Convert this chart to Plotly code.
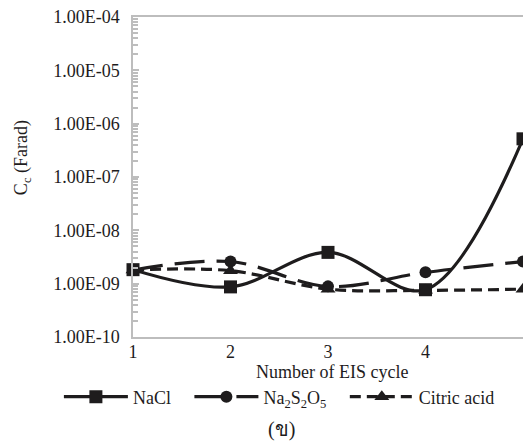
import plotly.graph_objects as go

cycles = [1, 2, 3, 4, 5]
nacl = [1.83e-9, 8.7e-10, 3.86e-9, 7.7e-10, 5.2e-7]
na2s2o5 = [1.8e-9, 2.6e-9, 8.9e-10, 1.63e-9, 2.6e-9]
citric = [1.8e-9, 1.75e-9, 7.9e-10, 7.5e-10, 7.9e-10]

y_tickvals = [1e-10, 1e-9, 1e-8, 1e-7, 1e-6, 1e-5, 1e-4]
y_ticktext = ["1.00E-10", "1.00E-09", "1.00E-08", "1.00E-07", "1.00E-06", "1.00E-05", "1.00E-04"]
x_tickvals = [1, 2, 3, 4, 5]

series_names = ["NaCl", "Na<sub>2</sub>S<sub>2</sub>O<sub>5</sub>", "Citric acid"]

INK = "#1e1c1d"
AXIS = "#bdbdbd"
FONT = "Liberation Serif"
PAD = "\u00a0" * 3

minor_vals = [m * d for d in y_tickvals[:-1] for m in range(2, 10)]

fig = go.Figure()
fig.add_trace(go.Scatter(
    x=cycles, y=nacl, name=series_names[0] + PAD, mode="lines+markers",
    line=dict(color=INK, width=3.2, shape="spline", smoothing=1.0),
    marker=dict(symbol="square", size=13, color=INK),
    cliponaxis=False,
))
fig.add_trace(go.Scatter(
    x=cycles, y=na2s2o5, name=series_names[1] + PAD, mode="lines+markers",
    line=dict(color=INK, width=3.2, shape="spline", smoothing=1.0, dash="30px,12px"),
    marker=dict(symbol="circle", size=12, color=INK),
    cliponaxis=False,
))
fig.add_trace(go.Scatter(
    x=cycles, y=citric, name=series_names[2], mode="lines+markers",
    line=dict(color=INK, width=3.2, shape="spline", smoothing=1.0, dash="11px,6px"),
    marker=dict(symbol="triangle-up", size=13, color=INK),
    cliponaxis=False,
))
# empty trace so the minor-tick overlay axis gets drawn
fig.add_trace(go.Scatter(x=[], y=[], yaxis="y2", showlegend=False, hoverinfo="skip"))

fig.update_layout(
    width=523, height=443,
    margin=dict(l=133, r=0, t=17, b=106, autoexpand=False),
    paper_bgcolor="white", plot_bgcolor="white",
    font=dict(family=FONT, size=18, color=INK),
    showlegend=True,
    legend=dict(
        orientation="h", x=-0.19, xanchor="left", y=-0.1875, yanchor="middle",
        font=dict(family=FONT, size=18, color=INK),
        itemwidth=64, bgcolor="rgba(0,0,0,0)", tracegroupgap=0,
    ),
    xaxis=dict(
        range=[1, 5.0], tickmode="array", tickvals=x_tickvals,
        showgrid=False, zeroline=False, automargin=False,
        showline=True, linecolor=AXIS, linewidth=1.5, mirror=True,
        ticks="", ticklabelstandoff=-2,
        tickfont=dict(family=FONT, size=18, color=INK),
    ),
    yaxis=dict(
        type="log", range=[-10, -4], tickmode="array",
        tickvals=y_tickvals, ticktext=y_ticktext,
        showgrid=False, zeroline=False, automargin=False,
        showline=True, linecolor=AXIS, linewidth=1.5,
        ticks="inside", ticklen=6, tickcolor=AXIS, tickwidth=1.5,
        ticklabelstandoff=8,
        tickfont=dict(family=FONT, size=18, color=INK),
    ),
    yaxis2=dict(
        type="log", range=[-10, -4], overlaying="y", side="left",
        anchor="x", tickmode="array", tickvals=minor_vals,
        showticklabels=False, showgrid=False, zeroline=False, showline=False,
        automargin=False,
        ticks="inside", ticklen=5, tickcolor=AXIS, tickwidth=1.5,
    ),
    annotations=[
        dict(text="Number of EIS cycle", xref="paper", yref="paper",
             x=0.510, y=-0.11, xanchor="center", yanchor="middle",
             showarrow=False, font=dict(family=FONT, size=18, color=INK)),
        dict(text="C<sub>c</sub> (Farad)", xref="paper", yref="paper",
             x=-0.2846, y=0.559, xanchor="center", yanchor="middle", textangle=-90,
             showarrow=False, font=dict(family=FONT, size=18, color=INK)),
        dict(text="(ข)", xref="paper", yref="paper",
             x=0.382, y=-0.29, xanchor="center", yanchor="middle",
             showarrow=False, font=dict(family=FONT, size=20, color=INK)),
    ],
)

fig.write_html("out.html", config={"displayModeBar": False},
               post_script="document.body.style.margin='0';")
